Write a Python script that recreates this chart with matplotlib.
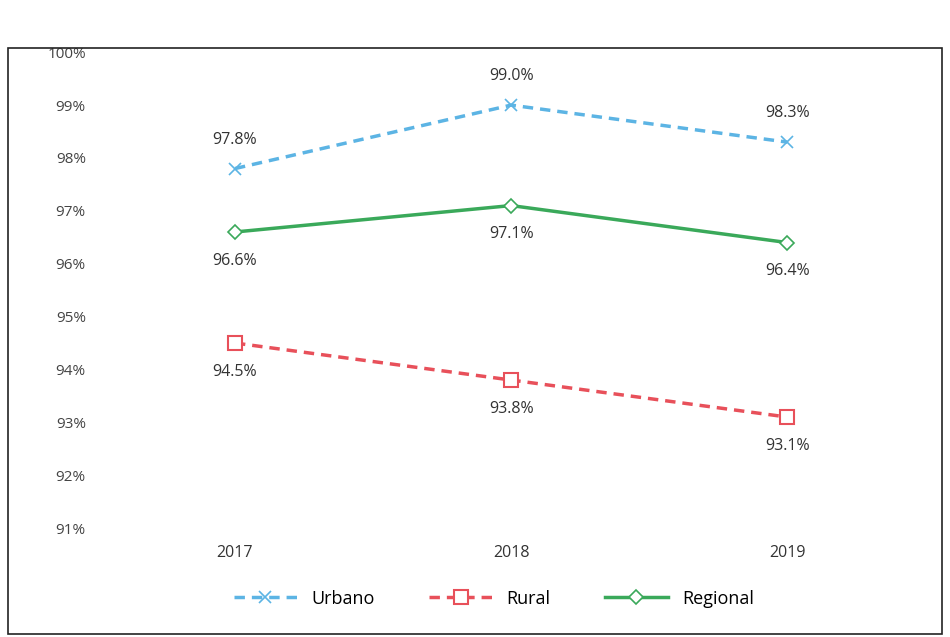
import matplotlib
matplotlib.use("Agg")
import matplotlib.pyplot as plt
from matplotlib.patches import Rectangle

years = ['2017', '2018', '2019']
urbano = [97.8, 99.0, 98.3]
rural = [94.5, 93.8, 93.1]
regional = [96.6, 97.1, 96.4]

plt.rcParams['font.family'] = ['Open Sans', 'DejaVu Sans']

fig = plt.figure(figsize=(9.5, 6.37), dpi=100)
ax = fig.add_axes([0.102, 0.171, 0.872, 0.747])

x = list(range(len(years)))
ax.plot(x, urbano, color='#5cb4e4', linestyle=(0, (3, 2)), linewidth=2.5,
        marker='x', markersize=8, markeredgewidth=1.2, label='Urbano')
ax.plot(x, rural, color='#e8505a', linestyle=(0, (3, 2)), linewidth=2.5,
        marker='s', markersize=10, markerfacecolor='white', markeredgewidth=1.5, label='Rural')
ax.plot(x, regional, color='#3aa95a', linewidth=2.5,
        marker='D', markersize=7, markerfacecolor='white', markeredgewidth=1.2, label='Regional')

# etiquetas de datos
for i, v in enumerate(urbano):
    ax.annotate(f'{v:.1f}%', (i, v), xytext=(0, 15), textcoords='offset points',
                ha='center', va='bottom', fontsize=11.5, color='#333333')
for i, v in enumerate(rural):
    ax.annotate(f'{v:.1f}%', (i, v), xytext=(0, -15), textcoords='offset points',
                ha='center', va='top', fontsize=11.5, color='#333333')
for i, v in enumerate(regional):
    ax.annotate(f'{v:.1f}%', (i, v), xytext=(0, -15), textcoords='offset points',
                ha='center', va='top', fontsize=11.5, color='#333333')

ax.set_xlim(-0.5, 2.5)
ax.set_ylim(91, 100)
ax.set_yticks(range(91, 101))
ax.set_yticklabels([f'{t}%' for t in range(91, 101)], fontsize=11, color='#444444')
ax.set_xticks(x)
ax.set_xticklabels(years, fontsize=11.5, color='#333333')
ax.tick_params(length=0, pad=8)
ax.tick_params(axis='x', pad=12)
for s in ax.spines.values():
    s.set_visible(False)

fig.legend(loc='center', bbox_to_anchor=(0.52, 0.06), ncol=3, frameon=False,
           fontsize=13, handlelength=3.5, columnspacing=3)

fig.patches.append(Rectangle((0.008, 0.005), 0.984, 0.92, transform=fig.transFigure,
                             fill=False, edgecolor='#222222', linewidth=1.2))

fig.savefig('out.png', dpi=100)
